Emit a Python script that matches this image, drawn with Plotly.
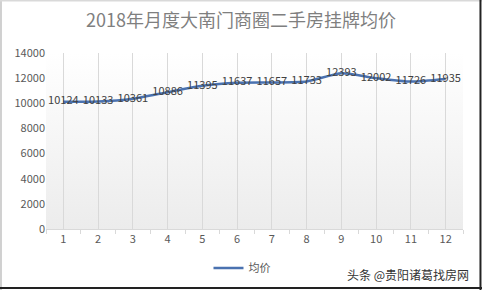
import plotly.graph_objects as go

months = [1, 2, 3, 4, 5, 6, 7, 8, 9, 10, 11, 12]
month_labels = ["1", "2", "3", "4", "5", "6", "7", "8", "9", "10", "11", "12"]
prices = [10124, 10133, 10361, 10886, 11395, 11637, 11657, 11733, 12393, 12002, 11726, 11935]
y_ticks = [0, 2000, 4000, 6000, 8000, 10000, 12000, 14000]
series_name = "均价"
title_text = "2018年月度大南门商圈二手房挂牌均价"
watermark = "头条 @贵阳诸葛找房网"

FONT = "Microsoft YaHei, Noto Sans CJK SC, sans-serif"

grad_svg = (
    "data:image/svg+xml;utf8,"
    "<svg xmlns='http://www.w3.org/2000/svg' width='100' height='100' preserveAspectRatio='none'>"
    "<defs><linearGradient id='g' x1='0' y1='0' x2='0' y2='1'>"
    "<stop offset='0' stop-color='%23ffffff'/><stop offset='1' stop-color='%23ececec'/>"
    "</linearGradient></defs><rect width='100' height='100' fill='url(%23g)'/></svg>"
)

fig = go.Figure()
fig.add_trace(go.Scatter(
    x=months, y=prices, mode="lines+text", name=series_name,
    text=[str(v) for v in prices], textposition="middle center",
    textfont=dict(family=FONT, size=11, color="#404040"),
    line=dict(color="#4a72b0", width=2.5, shape="spline", smoothing=0.6),
    cliponaxis=False,
))

fig.update_layout(
    width=482, height=290,
    margin=dict(l=46, r=19, t=53, b=61, autoexpand=False),
    paper_bgcolor="white", plot_bgcolor="rgba(0,0,0,0)",
    title=dict(text=title_text, x=0.5, xanchor="center", y=0.93, yanchor="middle",
               font=dict(family=FONT, size=18, color="#7f7f7f")),
    showlegend=True,
    legend=dict(orientation="h", x=0.47, xanchor="center", yref="container", y=0.076,
                yanchor="middle",
                font=dict(family=FONT, size=11, color="#595959"), itemwidth=30),
    xaxis=dict(range=[0.5, 12.5], tickvals=months, ticktext=month_labels,
               showgrid=True, gridcolor="#d9d9d9", gridwidth=1, zeroline=False,
               showline=True, linecolor="#d9d9d9", ticks="",
               minor=dict(tick0=0.5, dtick=1, ticks="outside", ticklen=4,
                          tickcolor="#d9d9d9", showgrid=False),
               tickfont=dict(family=FONT, size=11, color="#595959")),
    yaxis=dict(range=[0, 14000], tickvals=y_ticks, tickformat="d", showgrid=False,
               zeroline=False, showline=False,
               tickfont=dict(family=FONT, size=11, color="#595959"), ticksuffix=" "),
    images=[dict(source=grad_svg, xref="paper", yref="paper", x=0, y=1, sizex=1, sizey=1,
                 sizing="stretch", layer="below")],
    annotations=[dict(text=watermark, xref="paper", yref="paper", x=1.02, y=-0.2,
                      xanchor="right", yanchor="top", showarrow=False,
                      font=dict(family=FONT, size=12, color="#333333"))],
    shapes=[
        dict(type="line", xref="paper", yref="paper", x0=-0.108, x1=-0.108, y0=-0.36, y1=1.31,
             line=dict(color="#d0d0d0", width=2)),
        dict(type="line", xref="paper", yref="paper", x0=-0.12, x1=1.06, y0=1.298, y1=1.298,
             line=dict(color="#d9d9d9", width=2)),
        dict(type="line", xref="paper", yref="paper", x0=1.0419, x1=1.0419, y0=-0.36, y1=1.31,
             line=dict(color="#222222", width=2)),
        dict(type="line", xref="paper", yref="paper", x0=-0.12, x1=1.06, y0=-0.335, y1=-0.335,
             line=dict(color="#222222", width=2)),
    ],
)

fig.write_html("out.html")
